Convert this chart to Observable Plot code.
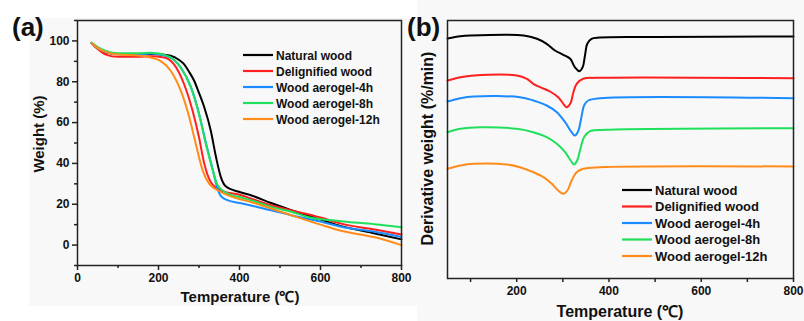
<!DOCTYPE html>
<html>
<head>
<meta charset="utf-8">
<script src="https://cdn.jsdelivr.net/npm/d3@7"></script>
<script src="https://cdn.jsdelivr.net/npm/@observablehq/plot@0.6"></script>
<style>
  html, body { margin: 0; padding: 0; background: #ffffff; }
  #wrap { position: relative; width: 804px; height: 321px; overflow: hidden; font-family: "Liberation Sans", Arial, sans-serif; }
  .bg { position: absolute; background: #f8f8f8; }
  .panel { position: absolute; top: 0; }
  #overlay { position: absolute; left: 0; top: 0; pointer-events: none; }
  svg text { font-family: "Liberation Sans", Arial, sans-serif; }
</style>
</head>
<body>
<div id="wrap">
  <div class="bg" style="left:29px;top:18px;width:388px;height:288px"></div>
  <div class="bg" style="left:417px;top:0px;width:387px;height:321px"></div>
  <div class="panel" id="pa" style="left:0px"></div>
  <div class="panel" id="pb" style="left:402px"></div>
</div>
<script>
// ---------- Data ----------
const seriesNames = ["Natural wood", "Delignified wood", "Wood aerogel-4h", "Wood aerogel-8h", "Wood aerogel-12h"];
const seriesColors = ["#000000", "#ff1f1f", "#1a8cff", "#1fe05a", "#ff8c1a"];

// (a) TGA: [temperature °C, weight %]
const tgaNatural = [[35,99],[50,96.2],[70,94.3],[100,93.6],[150,93.5],[180,93.6],[210,93.3],[230,92.7],[250,90.8],[263,88.6],[275,85],[288,80.5],[300,74.5],[313,67.5],[329,56.1],[342,43.1],[354,33.3],[366,28.8],[400,26],[428,24.4],[478,20.6],[528,17.1],[600,12.5],[651,9.3],[734,5.7],[800,2.8]];
const tgaDelignified = [[35,99],[50,96],[70,93.3],[100,92.2],[150,92.2],[181,92.5],[214,91.9],[238,88.6],[263,78.9],[284,65.9],[300,52.8],[313,39.9],[329,30.9],[354,26.8],[404,24.4],[428,22.8],[478,19.5],[528,17],[600,13.5],[651,10.5],[734,7.6],[800,5.2]];
const tga4h = [[35,99],[50,96.5],[80,94],[100,93.5],[150,93.5],[181,93.8],[222,92.5],[255,87],[280,77.5],[300,64.5],[317,50],[334,37],[345,28],[354,24],[370,22],[404,20.5],[428,19.4],[478,17.1],[528,14.6],[600,11.5],[651,9],[734,6.5],[800,4]];
const tga8h = [[35,99.2],[50,97],[80,94.5],[100,94],[150,94],[181,94.2],[222,92.7],[255,87],[280,77.2],[300,64.2],[317,49.6],[334,36.6],[346,29.3],[371,25.2],[404,23.3],[428,22],[478,18.7],[528,16.3],[569,13.8],[651,11.7],[734,10.2],[800,8.7]];
const tga12h = [[35,99],[50,96.5],[80,94],[100,93.3],[150,92.8],[181,91.9],[205,90.2],[230,85.4],[255,75.6],[276,62.6],[292,49.6],[309,36.6],[325,30.1],[354,26],[404,22.3],[428,21.1],[478,17.9],[528,14.6],[600,10],[651,7],[734,3.8],[800,0]];

// (b) DTG (offset curves, arbitrary units): [temperature °C, value]
const dtgNatural = [[50,240],[78,242.3],[100,243],[215,243],[244,239.7],[265,234.7],[283,228],[301,223.7],[316,219.7],[326,211.3],[336,207.3],[343,211.3],[348,223],[353,234.7],[362,239.7],[380,241],[500,241.5],[800,242]];
const dtgDelignified = [[50,198],[78,201.3],[107,203],[200,203],[222,199.7],[236,194.7],[251,191.3],[272,187],[290,181.3],[301,174.7],[308,171.3],[316,174.7],[323,186.3],[330,194.7],[344,199.7],[373,200.7],[800,200.3]];
const dtg4h = [[50,177],[78,180.3],[107,182],[207,181.3],[236,178],[265,173],[287,166.3],[305,156.3],[319,146.3],[326,143],[333,147],[341,163],[346,173],[355,178],[380,180.3],[800,180.3]];
const dtg8h = [[50,146.3],[78,149.7],[121,151.3],[200,149.7],[236,146.3],[265,141.3],[287,134.7],[305,126.3],[317,118],[324,114],[331,118],[339,131.3],[346,141.3],[359,147.3],[395,148.7],[800,150.3]];
const dtg12h = [[50,109.7],[78,113],[107,114.7],[179,114],[207,111.3],[236,106.3],[258,101.3],[276,94.7],[290,88],[301,84.7],[310,88],[319,98],[330,106.3],[344,109.7],[380,111.3],[800,112]];

// Axis ticks
const xTicksA = [0, 200, 400, 600, 800];
const xMinorA = [100, 300, 500, 700];
const yTicksA = [0, 20, 40, 60, 80, 100];
const yMinorA = [-10, 10, 30, 50, 70, 90, 110];
const xTicksB = [200, 400, 600, 800];
const xMinorB = [100, 300, 500, 700];

// ---------- Build ----------
const toRows = (list, key) => list.flatMap((arr, i) => arr.map(([T, v]) => ({series: seriesNames[i], T, [key]: v})));
const tgaRows = toRows([tgaNatural, tgaDelignified, tga4h, tga8h, tga12h], "W");
const dtgRows = toRows([dtgNatural, dtgDelignified, dtg4h, dtg8h, dtg12h], "D");

const color = {domain: seriesNames, range: seriesColors};
const axisStyle = {stroke: "#222", strokeWidth: 1.5, fontSize: 12, fontWeight: "bold", fill: "#111"};

const plotA = Plot.plot({
  width: 420, height: 321,
  marginLeft: 77, marginRight: 19, marginTop: 20, marginBottom: 56,
  x: {domain: [0, 800]},
  y: {domain: [-10, 110]},
  color,
  style: {background: "transparent", fontFamily: "Liberation Sans, Arial, sans-serif", overflow: "visible"},
  marks: [
    Plot.axisX({ticks: xTicksA, tickSize: 5, tickPadding: 3, label: null, tickFormat: d => d, ...axisStyle}),
    Plot.axisX({ticks: xMinorA, tickSize: 3, text: null, label: null, stroke: "#222", strokeWidth: 1.5}),
    Plot.axisY({ticks: yTicksA, tickSize: 5, tickPadding: 3, label: null, tickFormat: d => d, ...axisStyle}),
    Plot.axisY({ticks: yMinorA, tickSize: 3, text: null, label: null, stroke: "#222", strokeWidth: 1.5}),
    Plot.line(tgaRows, {x: "T", y: "W", z: "series", stroke: "series", strokeWidth: 2, curve: "monotone-x"}),
    Plot.frame({stroke: "#222", strokeWidth: 1.5})
  ]
});
document.getElementById("pa").appendChild(plotA);

const plotB = Plot.plot({
  width: 402, height: 321,
  marginLeft: 45, marginRight: 11, marginTop: 20, marginBottom: 43,
  x: {domain: [50, 800]},
  y: {domain: [0, 258], axis: null},
  color,
  style: {background: "transparent", fontFamily: "Liberation Sans, Arial, sans-serif", overflow: "visible"},
  marks: [
    Plot.axisX({ticks: xTicksB, tickSize: 4, tickPadding: 4, label: null, tickFormat: d => d, ...axisStyle}),
    Plot.axisX({ticks: xMinorB, tickSize: 4, text: null, label: null, stroke: "#222", strokeWidth: 1.5}),
    Plot.line(dtgRows, {x: "T", y: "D", z: "series", stroke: "series", strokeWidth: 2, curve: "catmull-rom"}),
    Plot.frame({stroke: "#222", strokeWidth: 1.5})
  ]
});
document.getElementById("pb").appendChild(plotB);

// ---------- Overlay: panel letters, axis titles, legends ----------
const NS = "http://www.w3.org/2000/svg";
const ov = document.createElementNS(NS, "svg");
ov.setAttribute("id", "overlay");
ov.setAttribute("width", 804);
ov.setAttribute("height", 321);
document.getElementById("wrap").appendChild(ov);
function txt(s, x, y, size, opts = {}) {
  const t = document.createElementNS(NS, "text");
  t.textContent = s;
  t.setAttribute("x", x); t.setAttribute("y", y);
  t.setAttribute("font-size", size);
  t.setAttribute("font-weight", "bold");
  t.setAttribute("fill", "#111");
  if (opts.anchor) t.setAttribute("text-anchor", opts.anchor);
  if (opts.transform) t.setAttribute("transform", opts.transform);
  ov.appendChild(t);
  return t;
}
function ln(x1, y1, x2, y2, c) {
  const l = document.createElementNS(NS, "line");
  l.setAttribute("x1", x1); l.setAttribute("y1", y1);
  l.setAttribute("x2", x2); l.setAttribute("y2", y2);
  l.setAttribute("stroke", c); l.setAttribute("stroke-width", 2.2);
  ov.appendChild(l);
}
txt("(a)", 12, 36, 26);
txt("(b)", 407, 36, 26);
txt("Temperature (℃)", 240, 302, 15, {anchor: "middle"});
txt("Temperature (℃)", 620, 317, 16, {anchor: "middle"});
txt("Weight (%)", 0, 0, 15, {anchor: "middle", transform: "translate(44,134) rotate(-90)"});
txt("Derivative weight (%/min)", 0, 0, 16, {anchor: "middle", transform: "translate(433,148.5) rotate(-90)"});

seriesNames.forEach((name, i) => {
  const ya = 55 + i * 16;
  ln(243, ya, 273, ya, seriesColors[i]);
  txt(name, 276, ya + 4.5, 12);
  const yb = 190 + i * 16.5;
  ln(622, yb, 652, yb, seriesColors[i]);
  txt(name, 655, yb + 4.7, 13);
});
</script>
</body>
</html>
